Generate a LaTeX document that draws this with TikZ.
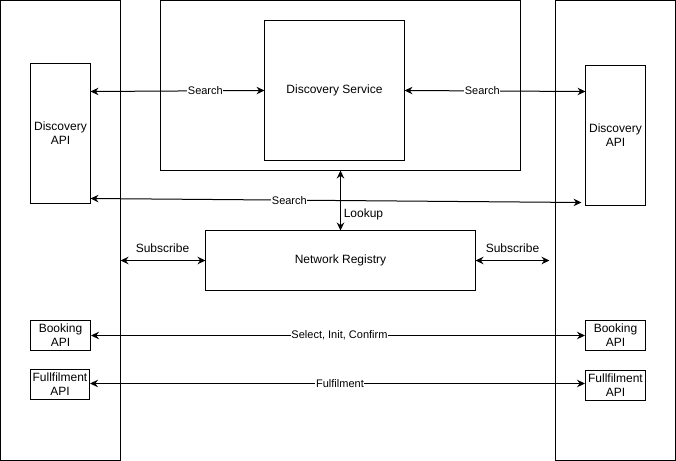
\documentclass[tikz,border=0pt]{standalone}
\usepackage{fontspec}
\setmainfont{Liberation Sans}
\usetikzlibrary{arrows.meta,fit}
\begin{document}
\begin{tikzpicture}[x=0.75pt,y=-0.75pt,
  box/.style={draw, line width=0.75pt, inner sep=0pt, align=center, font=\fontsize{9}{10.5}\selectfont},
  link/.style={line width=0.75pt, {Stealth[length=6pt,width=5.6pt,inset=2pt]}-{Stealth[length=6pt,width=5.6pt,inset=2pt]}},
  elabel/.style={fill=white, inner sep=0.5pt, font=\fontsize{8.25}{9}\selectfont},
  plabel/.style={inner sep=0pt, font=\fontsize{9}{10.5}\selectfont}]
\useasboundingbox (-0.5,-0.5) rectangle (675.5,460.5);
% containers
\node[box, fit={(0,0) (120,460)}] (lbig) {};
\node[box, fit={(555,0) (675,460)}] (rbig) {};
\node[box, fit={(160,0) (520,170)}] (top) {};
% nodes
\node[box, minimum width=105pt, minimum height=105pt] (ds) at (334,90) {Discovery Service};
\node[box, minimum width=45pt, minimum height=105pt] (ldapi) at (60,133) {Discovery\\API};
\node[box, minimum width=45pt, minimum height=105pt] (rdapi) at (615,135) {Discovery\\API};
\node[box, minimum width=202.5pt, minimum height=45pt] (nr) at (340,260) {Network Registry};
\node[box, minimum width=45pt, minimum height=22.5pt] (lbook) at (60,335) {Booking\\API};
\node[box, minimum width=45pt, minimum height=22.5pt] (rbook) at (615,335) {Booking\\API};
\node[box, minimum width=44.25pt, minimum height=22.5pt] (lful) at (59.5,384) {Fullfilment\\API};
\node[box, minimum width=45pt, minimum height=22.5pt] (rful) at (615,385) {Fullfilment\\API};
% helper coordinates
\coordinate (ls1) at (90,91);
\coordinate (ds1) at (264,90);
\coordinate (ds2) at (404,90);
\coordinate (rs1) at (585,91);
\coordinate (ls2) at (90,198);
\coordinate (rs2) at (581,202);
\coordinate (lk1) at (340,170);
\coordinate (lk2) at (340,230);
\coordinate (sb1) at (120,260);
\coordinate (sb2) at (205,260);
\coordinate (sb3) at (475,260);
\coordinate (sb4) at (549,260);
% connectors
\draw[link] (ls1) -- node[elabel, pos=0.66] {Search} (ds1);
\draw[link] (ds2) -- node[elabel, pos=0.43] {Search} (rs1);
\draw[link] (ls2) -- node[elabel, pos=0.405] {Search} (rs2);
\draw[link] (lk1) -- (lk2);
\node[plabel, anchor=west] (lookup) at (343,214) {Lookup};
\draw[link] (sb1) -- (sb2);
\node[plabel] (sub1) at (162,248) {Subscribe};
\draw[link] (sb3) -- (sb4);
\node[plabel] (sub2) at (512,248) {Subscribe};
\draw[link] (lbook.east) -- node[elabel, pos=0.503] {Select, Init, Confirm} (rbook.west);
\draw[link] (lful.east |- 0,383) -- node[elabel, pos=0.505] {Fulfilment} (rful.west |- 0,383);
\end{tikzpicture}
\end{document}
